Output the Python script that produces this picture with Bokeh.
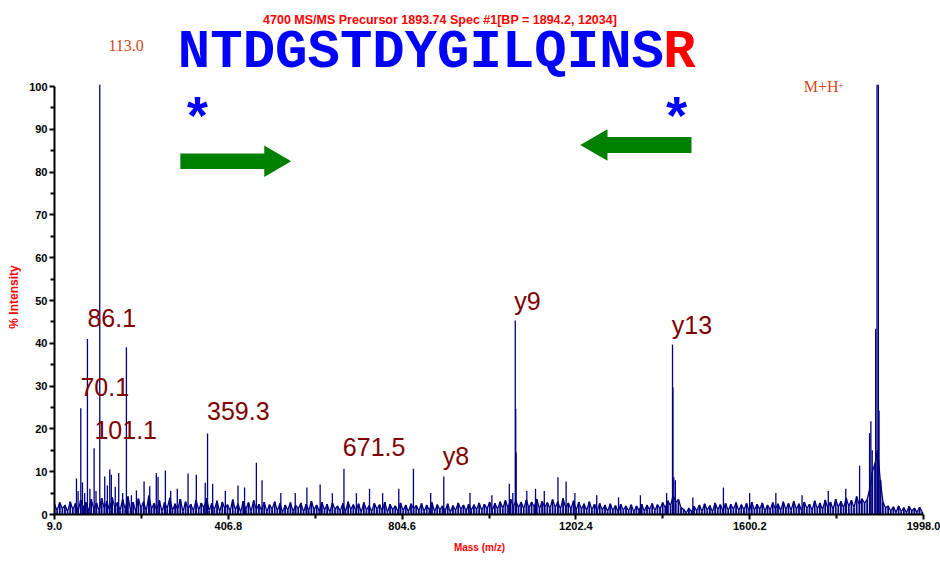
import numpy as np
from bokeh.plotting import figure
from bokeh.models import Label, FixedTicker, PrintfTickFormatter, Range1d, Title
from bokeh.embed import file_html
from bokeh.resources import INLINE

# ---------------- data ----------------
TITLE = "4700 MS/MS Precursor 1893.74 Spec #1[BP = 1894.2, 12034]"
SEQ_MAIN = "NTDGSTDYGILQINS"
SEQ_END = "R"
X_LABEL = "Mass (m/z)"
Y_LABEL = "% Intensity"
X_MIN, X_MAX = 9.0, 1998.0
x_ticks = [9.0, 406.8, 804.6, 1202.4, 1600.2, 1998.0]
x_minor = [207.9, 605.7, 1003.5, 1401.3, 1799.1]
y_ticks = [0, 10, 20, 30, 40, 50, 60, 70, 80, 90, 100]
y_minor = [5, 15, 25, 35, 45, 55, 65, 75, 85, 95]

peak_mz = [59.3, 63, 69.2, 73, 78, 84.4, 90, 99.7, 104, 112.6, 124, 130, 135.5,
           139, 148, 156, 165, 173.6, 185, 196.5, 214, 227, 242, 246, 262.8, 275,
           290, 314.7, 333.6, 354, 359.3, 371, 400, 429, 444, 471, 484, 527, 560,
           586.7, 617, 645, 671.5, 700, 730, 760, 797, 830.5, 870, 900, 960, 1010,
           1050, 1058, 1063.6, 1064.6, 1065.6, 1090, 1110, 1130, 1161.3, 1180, 1200,
           1250, 1300, 1350, 1410, 1423.5, 1424.5, 1426.5, 1430, 1470, 1540, 1600,
           1660, 1720, 1780, 1820, 1851.7, 1874.5, 1877.5, 1880.6, 1888.4, 1891.6,
           1894.7, 1896.2, 1900]
peak_int = [8.4, 5.5, 24.8, 7.5, 5.0, 41.0, 6.0, 15.5, 5.5, 100.4, 8.9, 6.8, 10.5,
            9.3, 6.5, 9.7, 5.0, 39.1, 4.5, 5.6, 7.7, 6.6, 9.7, 8.8, 10.3, 5.5,
            6.0, 9.6, 9.3, 7.4, 18.9, 7.2, 5.5, 6.8, 6.3, 12.1, 8.0, 5.0, 5.0,
            6.3, 7.0, 5.0, 10.7, 5.0, 6.0, 5.0, 6.0, 10.7, 5.0, 8.9, 5.0, 4.5,
            7.2, 5.0, 45.3, 24.7, 14.5, 5.5, 6.0, 5.5, 8.7, 7.7, 5.0,
            4.5, 4.0, 4.5, 5.0, 39.7, 29.7, 8.7, 8.0, 4.0, 6.3, 5.0,
            5.0, 4.5, 5.5, 6.0, 11.4, 19.0, 21.8, 15.0, 43.4, 100.4,
            100.4, 24.3, 8.0]

# baseline noise trace, read at 6 m/z steps from 9.0
noise_start = 9.0
noise_step = 6.0
noise_int = [
    2.4, 0.9, 2.8, 1.3, 2.2, 0.6, 3.0, 1.1, 2.6, 0.8, 3.4, 1.5, 2.9, 0.7, 3.6, 1.2, 2.7, 0.9, 3.8, 1.4,
    3.1, 0.8, 4.0, 1.6, 2.8, 0.9, 3.5, 1.2, 4.2, 1.0, 2.9, 0.6, 3.7, 1.5, 3.0, 0.8, 4.4, 1.3, 2.6, 1.0,
    3.3, 0.7, 2.8, 1.4, 3.9, 0.9, 2.5, 1.1, 3.6, 0.6, 3.0, 1.3, 2.4, 0.8, 3.4, 1.0, 2.7, 1.5, 3.8, 0.9,
    2.6, 1.1, 3.2, 0.6, 2.9, 1.4, 2.3, 0.8, 3.5, 1.0, 2.5, 0.5, 3.1, 1.2, 2.8, 0.7, 3.3, 1.1, 2.4, 0.9,
    2.9, 0.6, 2.3, 1.2, 3.0, 0.8, 2.6, 0.5, 2.2, 1.0, 2.8, 0.7, 2.1, 1.3, 2.7, 0.6, 2.4, 0.9, 3.1, 1.1,
    2.2, 0.7, 2.9, 1.0, 2.4, 0.5, 2.7, 1.2, 2.0, 0.8, 2.6, 0.6, 3.0, 1.1, 2.3, 0.9, 2.5, 0.5, 2.8, 1.0,
    2.1, 0.6, 2.6, 1.2, 2.3, 0.8, 2.9, 0.5, 2.4, 1.1, 2.0, 0.7, 2.7, 0.9, 2.2, 0.6, 2.5, 1.3, 2.1, 0.8,
    2.6, 0.7, 2.2, 1.0, 2.8, 0.6, 2.3, 1.1, 2.0, 0.8, 2.5, 0.5, 2.1, 0.9, 2.7, 1.2, 2.2, 0.8, 2.4, 1.0,
    2.3, 1.1, 2.7, 0.9, 2.4, 1.3, 2.9, 1.0, 2.6, 1.2, 3.0, 1.4, 3.3, 1.5, 3.6, 1.8, 3.2, 1.6, 2.9, 1.3,
    3.4, 1.5, 2.9, 1.8, 3.6, 1.3, 3.1, 1.7, 2.8, 1.4, 3.5, 1.6, 3.0, 1.2, 3.8, 1.5, 2.7, 1.3, 3.2, 1.0,
    2.9, 1.2, 2.5, 0.9, 3.0, 1.1, 2.4, 0.8, 2.6, 1.0, 2.2, 0.7, 2.5, 0.9, 2.1, 0.6, 2.4, 1.0, 2.0, 0.8,
    2.3, 0.6, 2.0, 0.9, 2.4, 0.7, 2.2, 1.1, 2.6, 0.9, 2.3, 1.3, 2.8, 1.5, 3.2, 2.0, 4.5, 2.8, 3.5, 1.6,
    1.2, 0.4, 1.5, 0.6, 1.9, 0.8, 2.2, 0.7, 2.5, 1.0, 2.1, 0.6, 2.7, 1.1, 2.3, 0.8, 2.6, 0.9, 2.4, 1.2,
    2.8, 0.9, 2.3, 1.1, 2.6, 0.7, 2.9, 1.0, 2.4, 1.2, 2.7, 0.8, 2.2, 1.0, 2.8, 1.3, 2.5, 0.9, 3.0, 1.1,
    2.6, 1.0, 3.1, 1.2, 2.5, 0.8, 2.9, 1.4, 2.4, 1.0, 3.2, 1.3, 2.7, 1.1, 3.4, 1.5, 2.9, 1.2, 3.6, 1.7,
    3.1, 1.5, 3.8, 1.9, 3.3, 1.6, 4.2, 2.2, 3.7, 2.6, 3.5, 6.0, 10.0, 12.0, 15.0, 8.0, 3.0, 1.5, 2.0, 0.8,
    1.8, 0.5, 2.0, 0.7, 1.6, 0.4, 1.9, 0.8, 1.5, 0.5, 1.7, 0.6,
]

# peak annotations: text, left m/z, centre height %
ann_text = ["70.1", "86.1", "101.1", "359.3", "671.5", "y8", "y9", "y13"]
ann_mz = [68.4, 84.4, 100.4, 358.0, 669.0, 897.6, 1061.0, 1421.8]
ann_y = [29.8, 45.9, 19.7, 24.2, 15.7, 13.6, 49.9, 44.2]

# ---------------- layout (pixels of the 940x561 picture) ----------------
W, H = 940, 561
FR_L, FR_R, FR_T, FR_B = 53, 940, 0, 514      # frame box
AX_R = 923                                      # pixel of x = X_MAX
SX = (AX_R - FR_L) / (X_MAX - X_MIN)           # px per m/z
SY = (FR_B - 86) / 100.0                       # px per % (100% at pixel 86)
x_end = X_MIN + (FR_R - FR_L) / SX
y_end = (FR_B - FR_T) / SY

p = figure(width=W, height=H, x_range=Range1d(X_MIN, x_end), y_range=Range1d(0, y_end),
           output_backend="svg", toolbar_location=None,
           min_border_left=FR_L, min_border_right=W - FR_R,
           min_border_top=FR_T, min_border_bottom=H - FR_B)
p.outline_line_color = None
p.xgrid.visible = False
p.ygrid.visible = False
p.background_fill_color = "white"
p.border_fill_color = "white"

NAVY = "#000080"
noise_mz = [noise_start + noise_step * i for i in range(len(noise_int))]
p.segment(x0=noise_mz, y0=[0] * len(noise_mz), x1=noise_mz, y1=noise_int,
          line_color=NAVY, line_width=1.8)
p.line(noise_mz, noise_int, line_color=NAVY, line_width=1.3)
p.segment(x0=peak_mz, y0=[0] * len(peak_mz), x1=peak_mz, y1=peak_int,
          line_color=NAVY, line_width=1.3)

# axes
for ax in (p.xaxis[0], p.yaxis[0]):
    ax.axis_line_width = 2
    ax.axis_line_color = "black"
    ax.major_tick_line_width = 2
    ax.minor_tick_line_width = 2
    ax.major_tick_out = 5
    ax.major_tick_in = 0
    ax.minor_tick_out = 4
    ax.minor_tick_in = 0
    ax.major_label_text_font = "Liberation Sans"
    ax.major_label_text_font_style = "bold"
    ax.major_label_text_font_size = "11px"
    ax.major_label_text_color = "black"
    ax.major_label_standoff = 2
p.xaxis[0].ticker = FixedTicker(ticks=x_ticks, minor_ticks=x_minor)
p.xaxis[0].formatter = PrintfTickFormatter(format="%.1f")
p.xaxis[0].bounds = (X_MIN, X_MAX)
p.yaxis[0].ticker = FixedTicker(ticks=y_ticks, minor_ticks=y_minor)
p.yaxis[0].bounds = (0, 100)

# axis titles as side-panel titles (offset from the frame edge)
p.add_layout(Title(text=X_LABEL, align="left", offset=399.4, vertical_align="bottom",
                   standoff=14, text_font="Liberation Sans", text_font_style="bold",
                   text_font_size="10px", text_color="#FF0000"), "below")
p.add_layout(Title(text=Y_LABEL, align="left", offset=185.8, vertical_align="middle",
                   standoff=9.8, text_font="Liberation Sans", text_font_style="bold",
                   text_font_size="12px", text_color="#FF0000"), "left")

def ref_x(px):
    return X_MIN + (px - FR_L) / SX
def ref_y(py):
    return (FR_B - py) / SY

def lab(x, y, text, font, size, color, style="normal", align="left", angle=0.0):
    p.add_layout(Label(x=x, y=y, text=text, text_font=font, text_font_size=size,
                       text_color=color, text_font_style=style, text_align=align,
                       text_baseline="middle", angle=angle))

# peak labels
for t, mx, my in zip(ann_text, ann_mz, ann_y):
    lab(mx, my, t, "Liberation Sans", "25px", "#800000")

# title and sequence
lab(ref_x(439), ref_y(19.5), TITLE, "Liberation Sans", "12.5px", "#FF0000", style="bold", align="center")
SEQ_PX = 54
adv = 0.6 * SEQ_PX
lab(ref_x(176.5), ref_y(51.5), SEQ_MAIN, "Liberation Mono", f"{SEQ_PX}px", "#0000FF", style="bold")
lab(ref_x(176.5 + adv * len(SEQ_MAIN)), ref_y(51.5), SEQ_END, "Liberation Mono", f"{SEQ_PX}px", "#FF0000", style="bold")

# stars
lab(ref_x(196), ref_y(121), "*", "Liberation Mono", f"{SEQ_PX}px", "#0000FF", style="bold", align="center")
lab(ref_x(676), ref_y(121), "*", "Liberation Mono", f"{SEQ_PX}px", "#0000FF", style="bold", align="center")

# 113.0 and M+H+
ORANGE = "#D2491F"
lab(ref_x(107), ref_y(44.5), "113.0", "Liberation Serif", "16px", ORANGE)
lab(ref_x(803), ref_y(86), "M+H", "Liberation Serif", "16px", ORANGE)
lab(ref_x(837.5), ref_y(84.5), "+", "Liberation Serif", "10px", ORANGE)

# direction arrows (block arrows)
def block_arrow(tail_px, tip_px, cy, half_shaft, half_head, head_len):
    d = 1.0 if tip_px > tail_px else -1.0
    base = tip_px - d * head_len
    xs = [tail_px, base, base, tip_px, base, base, tail_px]
    ys = [cy - half_shaft, cy - half_shaft, cy - half_head, cy, cy + half_head, cy + half_shaft, cy + half_shaft]
    return [ref_x(v) for v in xs], [ref_y(v) for v in ys]

ax1, ay1 = block_arrow(179, 290, 160.7, 7.8, 15.8, 27)
ax2, ay2 = block_arrow(690.7, 579.3, 144.5, 8.0, 15.7, 27.3)
p.patches([ax1, ax2], [ay1, ay2], fill_color="#008000", line_color=None)

open("out.html", "w").write(file_html(p, INLINE))
